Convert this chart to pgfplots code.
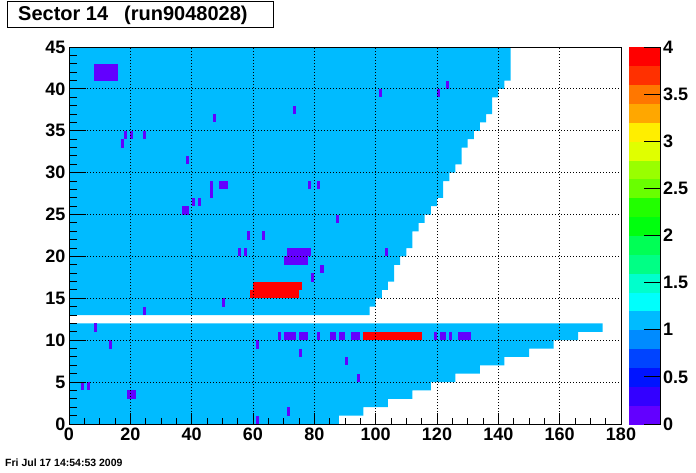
\documentclass[border=0pt]{standalone}
\usepackage{fontspec}
\setmainfont{Liberation Sans}
\usepackage{pgfplots}
\pgfplotsset{compat=1.18}
\definecolor{cblue}{RGB}{0,187,255}
\definecolor{cpurp}{RGB}{99,0,255}
\definecolor{cred}{RGB}{255,0,0}
% one filled bin range: x0 x1 y0 y1 colour
\newcommand{\cell}[5]{\addplot[fill=#5,draw=none,forget plot] coordinates {(#1,#3) (#2,#3) (#2,#4) (#1,#4)} -- cycle;}
\begin{document}
\begin{tikzpicture}[x=1pt,y=1pt]
\path[use as bounding box] (0,0) rectangle (696,472);
\begin{axis}[
  at={(69pt,48pt)}, anchor=south west, scale only axis,
  width=552pt, height=377pt,
  xmin=0, xmax=180, ymin=0, ymax=45,
  axis on top,
  xtick={0,20,...,180}, ytick={0,5,...,45},
  minor x tick num=3, minor y tick num=4,
  xtick pos=bottom, ytick pos=left, tick align=inside,
  major tick length=11.3pt, minor tick length=5.7pt,
  grid=major,
  major grid style={black, line width=1pt, dash pattern=on 1pt off 2pt},
  axis line style={line width=1pt},
  tick style={black, line width=1pt},
  /pgf/number format/assume math mode=true,
  ticklabel style={font=\fontsize{18}{18}\selectfont\bfseries},
  colorbar,
  colormap={root}{rgb255=(99,0,255) rgb255=(51,0,255) rgb255=(0,20,255) rgb255=(0,68,255)
    rgb255=(0,139,255) rgb255=(0,187,255) rgb255=(0,255,252) rgb255=(0,255,204)
    rgb255=(0,255,133) rgb255=(0,255,85) rgb255=(0,255,14) rgb255=(34,255,0)
    rgb255=(105,255,0) rgb255=(153,255,0) rgb255=(224,255,0) rgb255=(255,238,0)
    rgb255=(255,167,0) rgb255=(255,119,0) rgb255=(255,48,0) rgb255=(255,0,0)},
  colormap access=piecewise constant,
  point meta min=0, point meta max=4,
  colorbar style={
    at={(parent axis.north east)}, anchor=north west, xshift=-1pt,
    scale only axis, width=32pt, height=377pt,
    ytick={0,0.5,...,4},
    axis x line=none, axis y line*=right,
    tick align=inside, major tick length=17pt,
    tick style={black, line width=1pt},
    axis line style={line width=1pt},
    /pgf/number format/assume math mode=true,
    yticklabel style={font=\fontsize{18}{18}\selectfont\bfseries, xshift=-1pt},
  },
]
% value 1 region, rows 0-11
\addplot[fill=cblue, draw=none, forget plot] coordinates {
 (0,0) (88,0) (88,1) (96,1) (96,2) (104,2) (104,3) (112,3) (112,4) (118,4) (118,5)
 (126,5) (126,6) (134,6) (134,7) (142,7) (142,8) (150,8) (150,9) (158,9) (158,10)
 (166,10) (166,11) (174,11) (174,12) (0,12)} -- cycle;
% value 1 region, rows 13-44
\addplot[fill=cblue, draw=none, forget plot] coordinates {
 (0,13) (98,13) (98,14) (100,14) (100,15) (102,15) (102,16) (104,16) (104,17) (106,17)
 (106,19) (108,19) (108,20) (110,20) (110,21) (112,21) (112,23) (114,23) (114,24)
 (116,24) (116,25) (118,25) (118,26) (120,26) (120,27) (122,27) (122,29) (124,29)
 (124,30) (126,30) (126,31) (128,31) (128,33) (130,33) (130,34) (132,34) (132,35)
 (134,35) (134,36) (136,36) (136,37) (138,37) (138,39) (140,39) (140,40) (142,40)
 (142,41) (144,41) (144,45) (0,45)} -- cycle;
% value 0 bins
\cell{8}{16}{41}{43}{cpurp}
\cell{123}{124}{40}{41}{cpurp}
\cell{101}{102}{39}{40}{cpurp}
\cell{120}{121}{39}{40}{cpurp}
\cell{73}{74}{37}{38}{cpurp}
\cell{47}{48}{36}{37}{cpurp}
\cell{18}{19}{34}{35}{cpurp}
\cell{20}{21}{34}{35}{cpurp}
\cell{24}{25}{34}{35}{cpurp}
\cell{17}{18}{33}{34}{cpurp}
\cell{38}{39}{31}{32}{cpurp}
\cell{46}{47}{27}{29}{cpurp}
\cell{49}{52}{28}{29}{cpurp}
\cell{78}{79}{28}{29}{cpurp}
\cell{81}{82}{28}{29}{cpurp}
\cell{40}{41}{26}{27}{cpurp}
\cell{42}{43}{26}{27}{cpurp}
\cell{37}{39}{25}{26}{cpurp}
\cell{87}{88}{24}{25}{cpurp}
\cell{58}{59}{22}{23}{cpurp}
\cell{63}{64}{22}{23}{cpurp}
\cell{55}{56}{20}{21}{cpurp}
\cell{57}{58}{20}{21}{cpurp}
\cell{71}{79}{20}{21}{cpurp}
\cell{103}{104}{20}{21}{cpurp}
\cell{70}{78}{19}{20}{cpurp}
\cell{82}{83}{18}{19}{cpurp}
\cell{79}{80}{17}{18}{cpurp}
\cell{50}{51}{14}{15}{cpurp}
\cell{24}{25}{13}{14}{cpurp}
\cell{8}{9}{11}{12}{cpurp}
\cell{68}{69}{10}{11}{cpurp}
\cell{70}{74}{10}{11}{cpurp}
\cell{75}{78}{10}{11}{cpurp}
\cell{81}{82}{10}{11}{cpurp}
\cell{85}{87}{10}{11}{cpurp}
\cell{88}{90}{10}{11}{cpurp}
\cell{92}{95}{10}{11}{cpurp}
\cell{119}{120}{10}{11}{cpurp}
\cell{121}{123}{10}{11}{cpurp}
\cell{124}{125}{10}{11}{cpurp}
\cell{127}{131}{10}{11}{cpurp}
\cell{13}{14}{9}{10}{cpurp}
\cell{61}{62}{9}{10}{cpurp}
\cell{75}{76}{8}{9}{cpurp}
\cell{90}{91}{7}{8}{cpurp}
\cell{94}{95}{5}{6}{cpurp}
\cell{4}{5}{4}{5}{cpurp}
\cell{6}{7}{4}{5}{cpurp}
\cell{19}{22}{3}{4}{cpurp}
\cell{71}{72}{1}{2}{cpurp}
\cell{61}{62}{0}{1}{cpurp}
% value 4 bins
\cell{60}{76}{16}{17}{cred}
\cell{59}{75}{15}{16}{cred}
\cell{96}{115}{10}{11}{cred}
\end{axis}
% longer y ticks (ROOT draws them at 3% of the pad width)
\begin{axis}[
  at={(69pt,48pt)}, anchor=south west, scale only axis,
  width=552pt, height=377pt,
  xmin=0, xmax=180, ymin=0, ymax=45,
  xtick=\empty, ytick={0,5,...,45}, yticklabels={},
  minor y tick num=4, ytick pos=left, tick align=inside,
  major tick length=16.6pt, minor tick length=8.3pt,
  axis line style={line width=1pt},
  tick style={black, line width=1pt},
]
\end{axis}
\draw[line width=1pt, fill=white] (7,444) rectangle (273,470);
\node[anchor=west, inner sep=0pt, font=\fontsize{20}{20}\selectfont\bfseries] at (18,457) {Sector 14\hspace{16pt}(run9048028)};
\node[anchor=west, inner sep=0pt, font=\fontsize{10.5}{10.5}\selectfont\bfseries] at (5,9) {Fri Jul 17 14:54:53 2009};
\end{tikzpicture}
\end{document}
